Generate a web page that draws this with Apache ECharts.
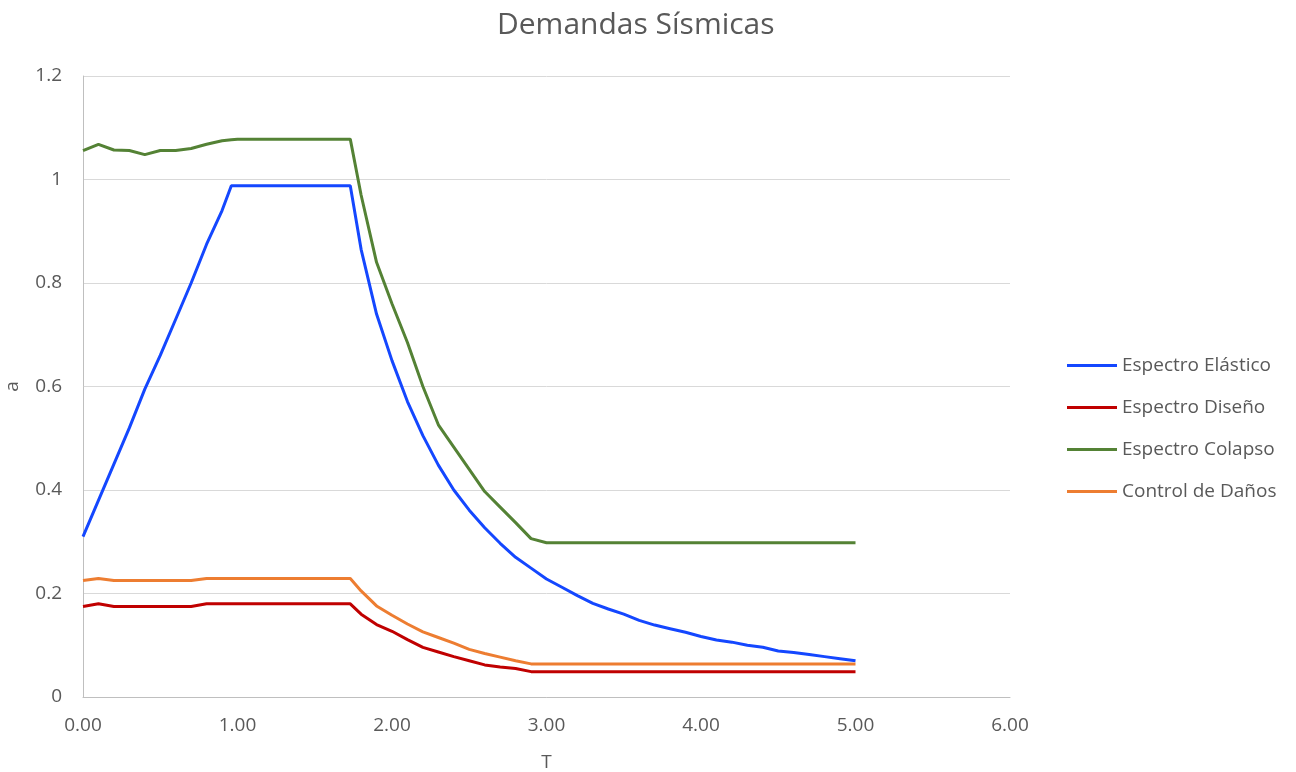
<!DOCTYPE html>
<html>
<head>
<meta charset="utf-8">
<script src="https://cdn.jsdelivr.net/npm/echarts@6/dist/echarts.min.js"></script>
<style>html,body{margin:0;padding:0;background:#fff}#c{width:1296px;height:772px}</style>
</head>
<body>
<div id="c"></div>
<script>
const T = [0,0.1,0.2,0.3,0.4,0.5,0.6,0.7,0.8,0.9,0.96,1.0,1.1,1.2,1.3,1.4,1.5,1.6,1.7,1.73,1.8,1.9,2.0,2.1,2.2,2.3,2.4,2.5,2.6,2.7,2.8,2.9,3.0,3.1,3.2,3.3,3.4,3.5,3.6,3.7,3.8,3.9,4.0,4.1,4.2,4.3,4.4,4.5,4.6,4.7,4.8,4.9,5.0];
const espectroElastico = [0.31,0.38,0.45,0.52,0.595,0.66,0.73,0.80,0.875,0.94,0.988,0.988,0.988,0.988,0.988,0.988,0.988,0.988,0.988,0.988,0.865,0.74,0.65,0.571,0.505,0.448,0.40,0.361,0.327,0.297,0.27,0.249,0.228,0.212,0.196,0.181,0.17,0.16,0.148,0.139,0.132,0.125,0.117,0.110,0.106,0.100,0.096,0.089,0.086,0.082,0.078,0.074,0.070];
const espectroDiseno = [0.175,0.18,0.175,0.175,0.175,0.175,0.175,0.175,0.18,0.18,0.18,0.18,0.18,0.18,0.18,0.18,0.18,0.18,0.18,0.18,0.16,0.14,0.127,0.111,0.096,0.087,0.078,0.07,0.062,0.058,0.055,0.049,0.049,0.049,0.049,0.049,0.049,0.049,0.049,0.049,0.049,0.049,0.049,0.049,0.049,0.049,0.049,0.049,0.049,0.049,0.049,0.049,0.049];
const espectroColapso = [1.056,1.068,1.057,1.056,1.048,1.056,1.056,1.06,1.068,1.075,1.077,1.078,1.078,1.078,1.078,1.078,1.078,1.078,1.078,1.078,0.97,0.84,0.76,0.685,0.60,0.526,0.483,0.44,0.397,0.367,0.337,0.306,0.298,0.298,0.298,0.298,0.298,0.298,0.298,0.298,0.298,0.298,0.298,0.298,0.298,0.298,0.298,0.298,0.298,0.298,0.298,0.298,0.298];
const controlDanos = [0.225,0.229,0.225,0.225,0.225,0.225,0.225,0.225,0.229,0.229,0.229,0.229,0.229,0.229,0.229,0.229,0.229,0.229,0.229,0.229,0.205,0.176,0.158,0.141,0.126,0.115,0.104,0.092,0.084,0.077,0.07,0.064,0.064,0.064,0.064,0.064,0.064,0.064,0.064,0.064,0.064,0.064,0.064,0.064,0.064,0.064,0.064,0.064,0.064,0.064,0.064,0.064,0.064];
const seriesNames = ['Espectro Elástico','Espectro Diseño','Espectro Colapso','Control de Daños'];
const seriesColors = ['#1447ff','#c00000','#548235','#ed7d31'];
const seriesValues = [espectroElastico, espectroDiseno, espectroColapso, controlDanos];

const FONT = 'Open Sans';
const chart = echarts.init(document.getElementById('c'));
chart.setOption({
  animation: false,
  textStyle: {fontFamily: FONT},
  title: {
    text: 'Demandas Sísmicas',
    left: 492, top: 5,
    textStyle: {fontFamily: FONT, fontSize: 30, fontWeight: 'normal', color: '#595959'}
  },
  legend: {
    orient: 'vertical',
    left: 1062, top: 351,
    itemWidth: 50, itemHeight: 3, itemGap: 23,
    icon: 'rect',
    textStyle: {fontFamily: FONT, fontSize: 19, lineHeight: 19, color: '#595959'},
    data: seriesNames
  },
  grid: {left: 83, right: 286, top: 76, bottom: 75, outerBoundsMode: 'none'},
  xAxis: {
    type: 'value', min: 0, max: 6, interval: 1,
    name: 'T', nameLocation: 'middle', nameGap: 56,
    nameTextStyle: {fontFamily: FONT, fontSize: 19, color: '#595959'},
    axisLine: {show: true, lineStyle: {color: '#bfbfbf'}},
    axisTick: {show: false},
    splitLine: {show: false},
    axisLabel: {fontFamily: FONT, fontSize: 19, color: '#595959', margin: 19, formatter: v => v.toFixed(2)}
  },
  yAxis: {
    type: 'value', min: 0, max: 1.2, interval: 0.2,
    name: 'a', nameLocation: 'middle', nameGap: 61,
    nameTextStyle: {fontFamily: FONT, fontSize: 19, color: '#595959'},
    axisLine: {show: true, lineStyle: {color: '#bfbfbf'}},
    axisTick: {show: false},
    splitLine: {show: true, lineStyle: {color: '#d9d9d9'}},
    axisLabel: {fontFamily: FONT, fontSize: 19, color: '#595959', margin: 21}
  },
  series: seriesNames.map((n, k) => ({
    name: n, type: 'line', showSymbol: false, symbol: 'none',
    color: seriesColors[k],
    lineStyle: {width: 3, color: seriesColors[k]},
    data: T.map((t, i) => [t, seriesValues[k][i]])
  }))
});
</script>
</body>
</html>
